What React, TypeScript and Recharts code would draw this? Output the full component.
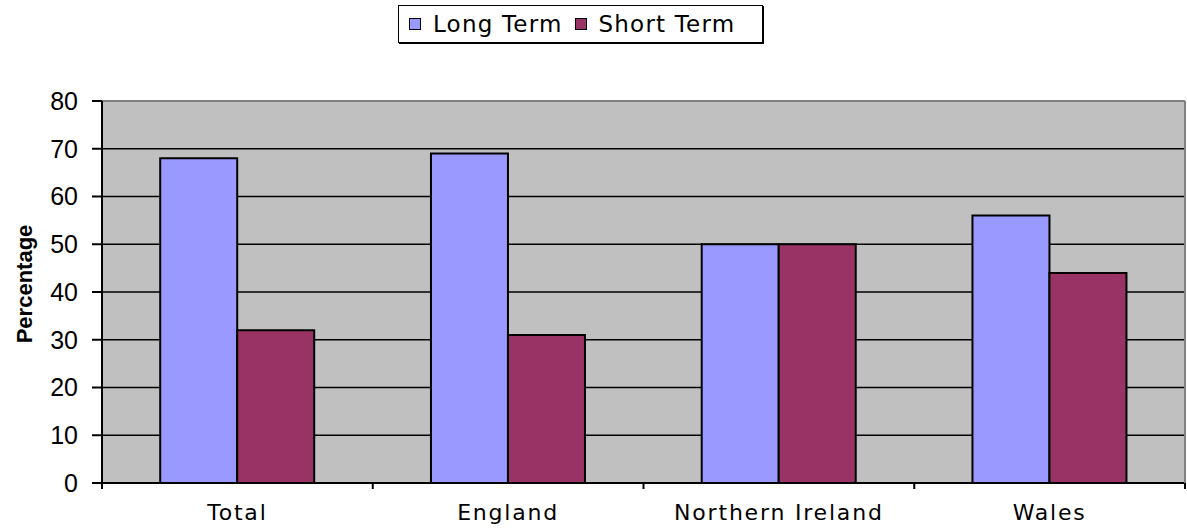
import { BarChart, Bar, XAxis, YAxis, CartesianGrid, ReferenceLine } from 'recharts';

const regions = ['Total', 'England', 'Northern Ireland', 'Wales'];
const longTerm = [68, 69, 50, 56];
const shortTerm = [32, 31, 50, 44];
const yTicks = [0, 10, 20, 30, 40, 50, 60, 70, 80];
const gridValues = [10, 20, 30, 40, 50, 60, 70];

const seriesNames = ['Long Term', 'Short Term'];
const seriesColors = ['#9999FF', '#993366'];

const data = regions.map((region, i) => ({
  region,
  long: longTerm[i],
  short: shortTerm[i],
}));

const TICK = 6;
const MARGIN = 15;

function CategoryTick(props: any) {
  const { x, y, payload, index, visibleTicksCount } = props;
  const axisY = y - TICK - MARGIN;
  const half = payload.offset ?? 0;
  const isLast = index === visibleTicksCount - 1;
  return (
    <g>
      <line x1={x - half} y1={axisY} x2={x - half} y2={axisY + TICK} stroke="#000" strokeWidth={2} />
      {isLast && (
        <line x1={x + half} y1={axisY} x2={x + half} y2={axisY + TICK} stroke="#000" strokeWidth={2} />
      )}
      <text
        x={x}
        y={y}
        dy="0.71em"
        textAnchor="middle"
        fill="#000"
        style={{ fontFamily: 'DejaVu Sans', fontSize: 22, letterSpacing: 1.8 }}
      >
        {payload.value}
      </text>
    </g>
  );
}

function LegendBox() {
  return (
    <div
      style={{
        position: 'absolute',
        top: 5,
        left: 398,
        width: 365,
        height: 38,
        boxSizing: 'border-box',
        display: 'flex',
        alignItems: 'center',
        border: '1px solid #000',
        boxShadow: '1px 1px 0 #000',
        paddingLeft: 10,
        fontFamily: 'DejaVu Sans',
        fontSize: 23,
        letterSpacing: 1.2,
        background: '#fff',
      }}
    >
      {seriesNames.map((name, i) => (
        <div key={name} style={{ display: 'flex', alignItems: 'center', marginLeft: i ? 12 : 0 }}>
          <span
            style={{
              display: 'inline-block',
              width: 10,
              height: 10,
              border: '1px solid #000',
              background: seriesColors[i],
              marginRight: 12,
            }}
          />
          <span>{name}</span>
        </div>
      ))}
    </div>
  );
}

export default function App() {
  return (
    <div style={{ position: 'absolute', top: 0, left: 0, width: 1187, height: 532, background: '#fff' }}>
      <LegendBox />
      <BarChart
        width={1187}
        height={532}
        data={data}
        margin={{ top: 101, right: 1, bottom: 0, left: 0 }}
        barCategoryGap="21.5%"
        barGap={0}
      >
        <CartesianGrid
          vertical={false}
          horizontalValues={gridValues}
          stroke="#000"
          strokeWidth={1.5}
          fill="#C0C0C0"
          fillOpacity={1}
        />
        <ReferenceLine y={80} stroke="#808080" strokeWidth={2} />
        <XAxis
          dataKey="region"
          height={49}
          axisLine={{ stroke: '#000', strokeWidth: 2 }}
          tickLine={false}
          tickSize={TICK}
          tickMargin={MARGIN}
          tick={<CategoryTick />}
          interval={0}
        />
        <YAxis
          width={102}
          domain={[0, 80]}
          ticks={yTicks}
          interval={0}
          axisLine={{ stroke: '#000', strokeWidth: 2 }}
          tickLine={{ stroke: '#000', strokeWidth: 2 }}
          tickSize={10}
          tickMargin={14}
          tick={{ fill: '#000', fontFamily: 'Liberation Sans', fontSize: 25 }}
          label={{
            value: 'Percentage',
            angle: -90,
            position: 'insideLeft',
            offset: 24,
            dx: 0,
            dy: -8,
            style: { fontFamily: 'Liberation Sans', fontWeight: 'bold', fontSize: 22, fill: '#000', textAnchor: 'middle' },
          }}
        />
        <YAxis
          yAxisId="right"
          orientation="right"
          width={1}
          domain={[0, 80]}
          tick={false}
          tickLine={false}
          axisLine={{ stroke: '#808080', strokeWidth: 2 }}
        />
        <Bar dataKey="long" name={seriesNames[0]} fill={seriesColors[0]} stroke="#000" strokeWidth={2} isAnimationActive={false} />
        <Bar dataKey="short" name={seriesNames[1]} fill={seriesColors[1]} stroke="#000" strokeWidth={2} isAnimationActive={false} />
      </BarChart>
    </div>
  );
}
